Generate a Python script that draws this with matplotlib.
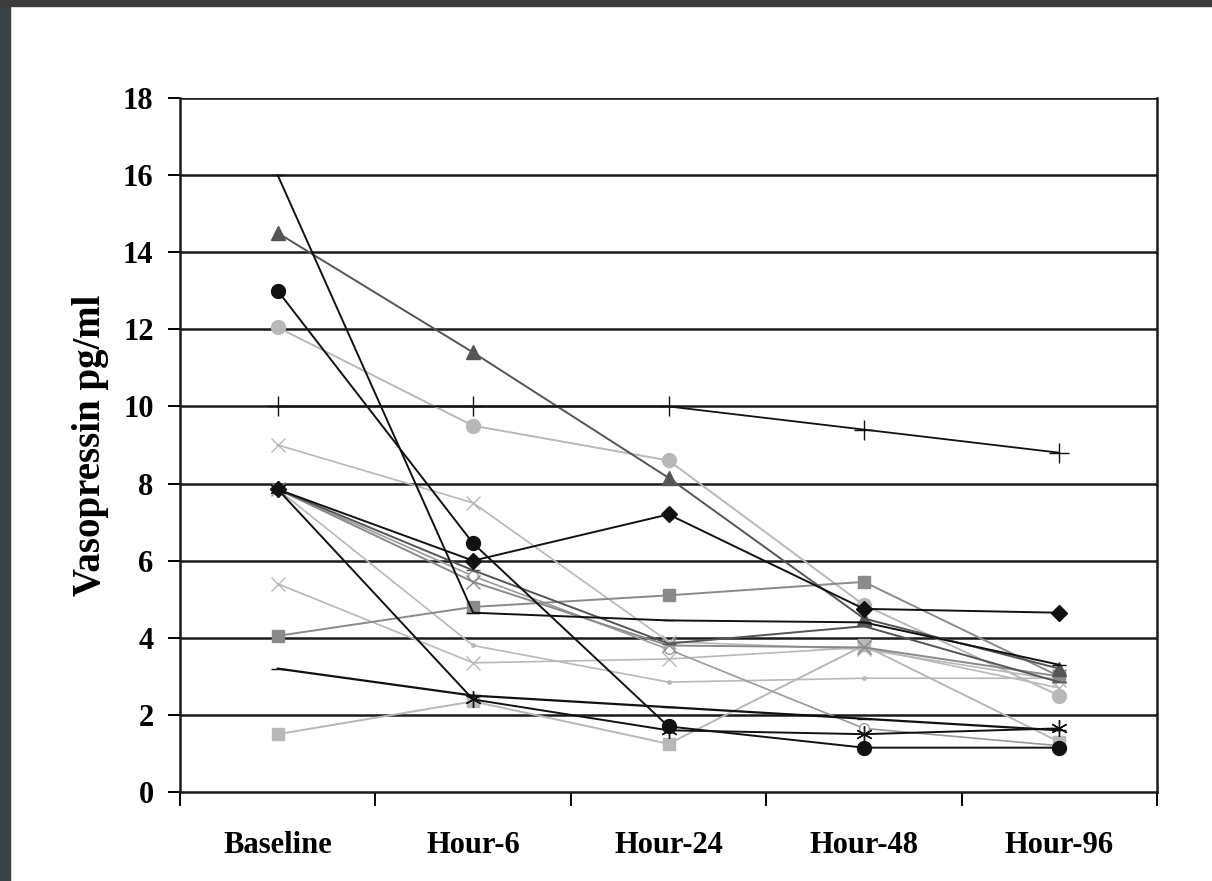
import matplotlib.pyplot as plt
from matplotlib.patches import Rectangle
import numpy as np

plt.rcParams['font.family'] = ['Liberation Serif', 'DejaVu Serif']

categories = ['Baseline', 'Hour-6', 'Hour-24', 'Hour-48', 'Hour-96']

# one list per patient (pg/ml)
p_plus = [10.0, 10.0, 10.0, 9.4, 8.8]
p_tri = [14.5, 11.4, 8.15, 4.5, 3.2]
p_gcirc = [12.05, 9.5, 8.6, 4.85, 2.5]
p_bcirc = [13.0, 6.45, 1.7, 1.15, 1.15]
p_16 = [16.0, 4.65, 4.45, 4.4, 3.3]
p_diam = [7.85, 6.0, 7.2, 4.75, 4.65]
p_star = [7.85, 2.4, 1.6, 1.5, 1.65]
p_gx1 = [9.0, 7.5, 3.9, 3.7, 2.9]
p_gx2 = [7.85, 5.45, 3.8, 3.75, 3.0]
p_gx3 = [5.4, 3.35, 3.45, 3.75, 2.7]
p_dgray = [7.85, 5.75, 3.85, 4.3, 2.85]
p_gsq = [4.05, 4.8, 5.1, 5.45, 3.0]
p_dash = [3.2, 2.5, 2.2, 1.9, 1.6]
p_lsq = [1.5, 2.35, 1.25, 3.8, 1.3]
p_dot = [7.85, 3.8, 2.85, 2.95, 2.95]
p_open = [7.85, 5.6, 3.7, 1.65, 1.2]

fig = plt.figure(figsize=(12.12, 8.81), dpi=100)
ax = fig.add_axes([180/1212, 1-792/881, (1157-180)/1212, (792-98)/881])

x = np.arange(1, 6)
k = '#111111'
dg = '#555555'
g = '#8a8a8a'
lg = '#b8b8b8'

def pl(vals, c, m, ms=9, ls='-', lw=1.4, mfc=None):
    ax.plot(x, vals, color=c, lw=lw, ls=ls, marker=m, ms=ms,
            mfc=mfc if mfc else c, mec=c, zorder=3)

pl(p_lsq, lg, 's', 9)
pl(p_dot, lg, '.', 5, lw=1.2)
pl(p_gx3, lg, 'x', 10, lw=1.2)
pl(p_gx1, lg, 'x', 10, lw=1.2)
pl(p_gcirc, lg, 'o', 10)
pl(p_open, '#9a9a9a', 'o', 7, lw=1.2, mfc='white')
pl(p_gx2, g, 'x', 10)
pl(p_gsq, g, 's', 8)
pl(p_dgray, dg, '_', 10)
pl(p_tri, dg, '^', 10)
pl(p_plus, k, '+', 14, lw=1.3)
pl(p_16, k, '_', 10)
pl(p_dash, k, '_', 10, lw=1.6)
pl(p_diam, k, 'D', 8)
pl(p_bcirc, k, 'o', 10)
pl(p_star, k, (6, 2, 0), 12)

ax.set_xlim(0.5, 5.5)
ax.set_ylim(0, 18)
ax.set_yticks(range(0, 19, 2))
for yv in range(2, 19, 2):
    ax.axhline(yv, color='#1a1a1a', lw=1.8, zorder=1)

ax.set_xticks(x)
ax.set_xticklabels(categories)
ax.set_xticks(np.arange(0.5, 6, 1), minor=True)
ax.tick_params(axis='x', which='major', length=0, pad=28, labelsize=22)
ax.tick_params(axis='x', which='minor', length=10, width=1.4, direction='out')
ax.tick_params(axis='y', length=9, width=1.4, pad=10, labelsize=22)
for t in ax.get_xticklabels() + ax.get_yticklabels():
    t.set_fontweight('bold')

for s in ['left', 'right', 'bottom']:
    ax.spines[s].set_linewidth(1.8)
    ax.spines[s].set_color('#1a1a1a')
ax.spines['top'].set_visible(False)

ax.set_ylabel('Vasopressin pg/ml', fontsize=28, fontweight='bold', labelpad=10)

# dark frame of the screenshot
fig.patches.append(Rectangle((0, 0), 10/1212, 1, transform=fig.transFigure,
                             color='#394345', zorder=0))
fig.patches.append(Rectangle((0, 1-6/881), 1, 6/881, transform=fig.transFigure,
                             color='#3c3c3c', zorder=0))

fig.savefig('out.png', dpi=100)
